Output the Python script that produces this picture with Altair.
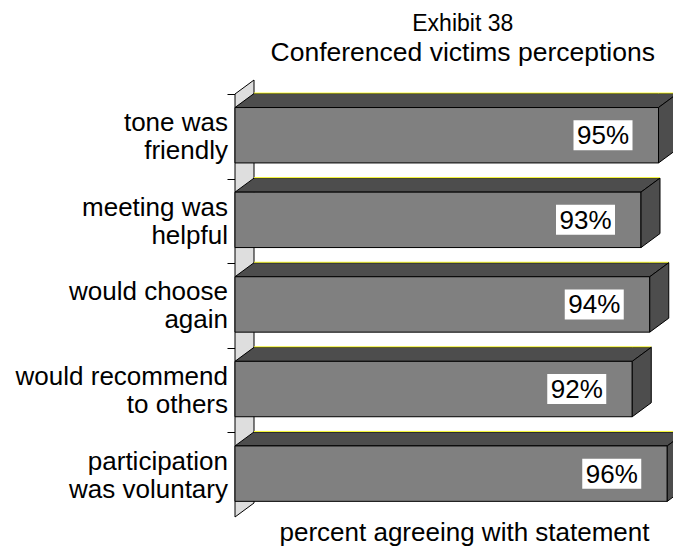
import altair as alt
import pandas as pd

# ---- data ----
categories = ["tone was\nfriendly", "meeting was\nhelpful", "would choose\nagain",
              "would recommend\nto others", "participation\nwas voluntary"]
values = [95, 93, 94, 92, 96]
value_labels = ["95%", "93%", "94%", "92%", "96%"]
title_line1 = "Exhibit 38"
title_line2 = "Conferenced victims perceptions"
x_title = "percent agreeing with statement"

# ---- geometry (scale settings) ----
X_MIN, X_MAX = 46.6, 96.6
PX_PER_PCT = 8.75
ROW_PX = 84.6
N = len(categories)
W = (X_MAX - X_MIN) * PX_PER_PCT
H = N * ROW_PX
DX = 19 / PX_PER_PCT
DY = 14 / ROW_PX
FRONT_TOP = 0.16
FRONT_BOT = 0.815

front, top_pts, side_pts = [], [], []
for i, (c, v, lab) in enumerate(zip(categories, values, value_labels)):
    yf = i + FRONT_TOP
    yb = i + FRONT_BOT
    front.append(dict(row=i, cat=c, base=X_MIN, v=v, yf=yf, yb=yb, yc=(yf + yb) / 2,
                      lab=lab, yback=yf - DY, xb1=X_MIN + DX, xb2=v + DX))
    for x, yt, ybt in [(X_MIN, yf, yf), (X_MIN + DX, yf - DY, yf),
                       (v, yf - DY, yf), (v + DX, yf - DY, yf - DY)]:
        top_pts.append(dict(row=i, x=x, yt=yt, yb=ybt))
    for x, yt, ybt in [(v, yf, yb), (v + DX, yf - DY, yb - DY)]:
        side_pts.append(dict(row=i, x=x, yt=yt, yb=ybt))

front_df = pd.DataFrame(front)
top_df = pd.DataFrame(top_pts)
side_df = pd.DataFrame(side_pts)
wall_df = pd.DataFrame([dict(x=X_MIN, yt=0.0, yb=float(N)),
                        dict(x=X_MIN + DX, yt=-DY, yb=N - DY)])

FONT = "Liberation Sans"
xs = alt.Scale(domain=[X_MIN, X_MAX], zero=False, nice=False)
ys = alt.Scale(domain=[0, N], reverse=True, zero=False, nice=False)
x_axis = alt.Axis(
    title=x_title, labels=False, ticks=False, domain=False, grid=False,
    titleFont=FONT, titleFontSize=26, titleFontWeight="normal", titleColor="black",
    titlePadding=23, titleBaseline="alphabetic", titleX=229, titleAlign="center")
y_axis = alt.Axis(
    values=list(range(N)), labels=False, ticks=True, tickSize=8, tickColor="black",
    tickWidth=1, domain=False, grid=False, title=None)


def X(field):
    return alt.X(field, scale=xs, axis=x_axis, title=x_title)


def Y(field):
    return alt.Y(field, scale=ys, axis=y_axis, title=None)


wall = alt.Chart(wall_df).mark_area(
    orient="vertical", fill="#dedede", stroke="black", strokeWidth=1, opacity=1
).encode(x=X("x:Q"), y=Y("yt:Q"), y2="yb:Q")

top_face = alt.Chart(top_df).mark_area(
    orient="vertical", fill="#4d4d4d", stroke="black", strokeWidth=1, opacity=1
).encode(x=X("x:Q"), y=Y("yt:Q"), y2="yb:Q", detail="row:N")

yellow = alt.Chart(front_df).mark_rule(color="#ffff33", strokeWidth=1, yOffset=-0.5).encode(
    x=X("xb1:Q"), x2="xb2:Q", y=Y("yback:Q"))

front_face = alt.Chart(front_df).mark_rect(
    fill="#808080", stroke="black", strokeWidth=1
).encode(x=X("base:Q"), x2="v:Q", y=Y("yf:Q"), y2="yb:Q")

side_face = alt.Chart(side_df).mark_area(
    orient="vertical", fill="#4d4d4d", stroke="black", strokeWidth=1, opacity=1
).encode(x=X("x:Q"), y=Y("yt:Q"), y2="yb:Q", detail="row:N")

box = alt.Chart(front_df).mark_rect(
    fill="white", xOffset=-85, x2Offset=-26, yOffset=-15, y2Offset=15
).encode(x=X("v:Q"), x2="v:Q", y=Y("yc:Q"), y2="yc:Q")

pct = alt.Chart(front_df).mark_text(
    align="center", baseline="alphabetic", dx=-55.5, dy=9, font=FONT, fontSize=26,
    color="black"
).encode(x=X("v:Q"), y=Y("yc:Q"), text="lab:N")

cat_text = alt.Chart(front_df).mark_text(
    align="right", baseline="alphabetic", dx=-7, dy=-4, font=FONT, fontSize=26,
    color="black", lineBreak="\n", lineHeight=28
).encode(x=X("base:Q"), y=Y("yc:Q"), text="cat:N")

chart = alt.layer(wall, top_face, yellow, front_face, side_face, box, pct, cat_text).properties(
    width=W, height=H, autosize="none", background="white",
    padding={"left": 227, "top": 86, "right": 0.5, "bottom": 31},
    title=alt.TitleParams(
        text=title_line1, subtitle=title_line2, font=FONT, subtitleFont=FONT,
        fontSize=23, subtitleFontSize=26.5, fontWeight="normal", color="black",
        subtitleColor="black", anchor="middle", dx=9, offset=12, subtitlePadding=4),
).configure_view(strokeWidth=0, stroke=None)

chart.save("out.html", embed_options={"renderer": "svg", "actions": False})
